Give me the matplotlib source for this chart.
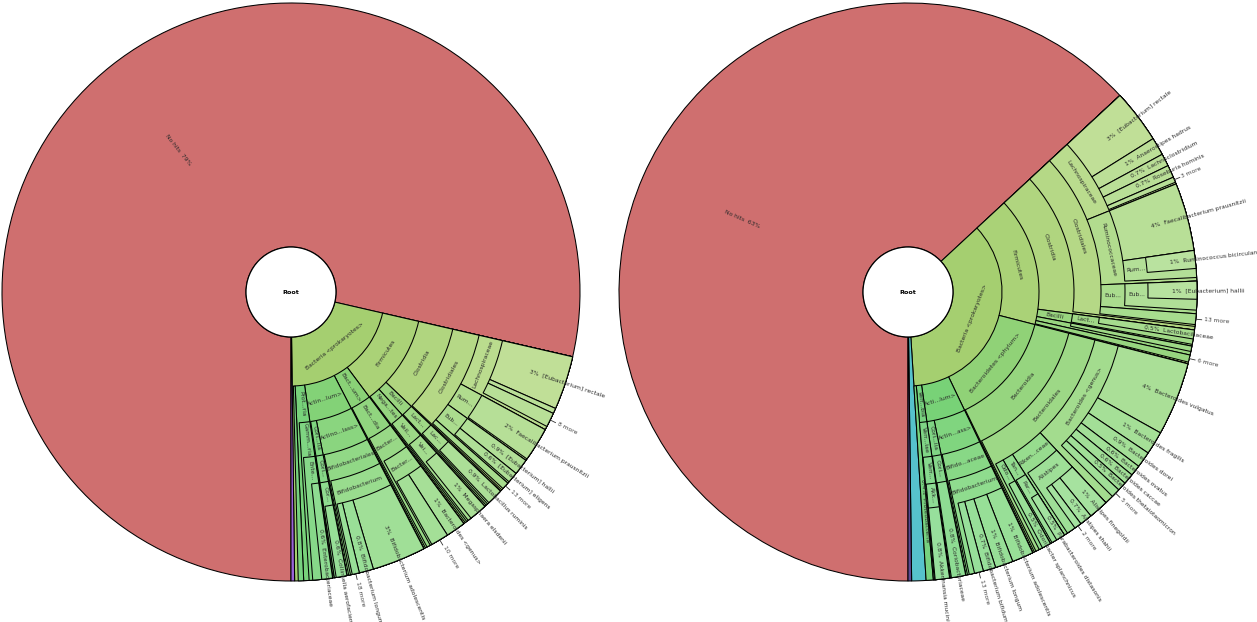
import colorsys
import numpy as np
import matplotlib
matplotlib.use("Agg")
import matplotlib.pyplot as plt
from matplotlib.patches import Wedge, Circle

# ---------------- data: left chart (percent of all reads) ----------------
left_names = [
    "No hits", "Bacteria <prokaryotes>", "Other",
    "Firmicutes", "Bacteroidetes <phylum>", "Actinobacteria <phylum>", "Proteobacteria", "Verrucomicrobia",
    "Clostridia", "Bacilli", "Negativicutes",
    "Clostridiales",
    "Lachnospiraceae", "Ruminococcaceae", "Eubacteriaceae", "13 more",
    "[Eubacterium] rectale", "Roseburia", "8 more",
    "Faecalibacterium prausnitzii",
    "[Eubacterium] hallii", "[Eubacterium] eligens",
    "Lactobacillales", "Lactobacillaceae", "Lactobacillus ruminis",
    "Veillonellales", "Veillonellaceae", "Megasphaera elsdenii",
    "Bacteroidia", "Bacteroidales", "Bacteroidaceae", "Bacteroides <genus>", "10 more",
    "Actinobacteria <class>", "Bifidobacteriales", "Bifidobacterium",
    "Bifidobacterium adolescentis", "Bifidobacterium longum", "18 more",
    "Coriobacteriia", "Coriobacteriales", "Coriobacteriaceae", "Collinsella aerofaciens",
    "Gammaproteobacteria", "Enterobacterales", "Enterobacteriaceae",
]
left_parents = [
    "Root", "Root", "Root",
    "Bacteria <prokaryotes>", "Bacteria <prokaryotes>", "Bacteria <prokaryotes>", "Bacteria <prokaryotes>", "Bacteria <prokaryotes>",
    "Firmicutes", "Firmicutes", "Firmicutes",
    "Clostridia",
    "Clostridiales", "Clostridiales", "Clostridiales", "Clostridiales",
    "Lachnospiraceae", "Lachnospiraceae", "Lachnospiraceae",
    "Ruminococcaceae",
    "Eubacteriaceae", "Eubacteriaceae",
    "Bacilli", "Lactobacillales", "Lactobacillaceae",
    "Negativicutes", "Veillonellales", "Veillonellaceae",
    "Bacteroidetes <phylum>", "Bacteroidia", "Bacteroidales", "Bacteroidaceae", "Bacteroidaceae",
    "Actinobacteria <phylum>", "Actinobacteria <class>", "Bifidobacteriales",
    "Bifidobacterium", "Bifidobacterium", "Bifidobacterium",
    "Actinobacteria <phylum>", "Coriobacteriia", "Coriobacteriales", "Coriobacteriaceae",
    "Proteobacteria", "Gammaproteobacteria", "Enterobacterales",
]
left_values = [
    78.6, 21.2, 0.2,
    11.2, 2.6, 5.3, 1.6, 0.3,
    8.5, 1.2, 1.4,
    8.4,
    4.3, 2.0, 1.6, 0.4,
    3.0, 0.3, 0.8,
    1.9,
    0.9, 0.6,
    1.1, 1.0, 0.9,
    1.3, 1.2, 1.0,
    2.5, 2.4, 2.2, 1.1, 1.0,
    4.5, 4.4, 4.3,
    3.0, 0.8, 0.4,
    0.7, 0.7, 0.7, 0.6,
    1.3, 1.1, 0.6,
]

# ---------------- data: right chart (percent of all reads) ----------------
right_names = [
    "No hits", "Bacteria <prokaryotes>", "Eukaryota", "Viruses",
    "Firmicutes", "Bacteroidetes <phylum>", "Actinobacteria <phylum>", "Verrucomicrobia", "Proteobacteria",
    "Clostridia", "Bacilli", "Negativicutes", "6 more",
    "Clostridiales",
    "Lachnospiraceae", "Ruminococcaceae", "Eubacteriaceae", "13 more",
    "[Eubacterium] rectale", "Anaerostipes hadrus", "Lachnoclostridium", "Roseburia hominis", "3 more",
    "Faecalibacterium prausnitzii", "Ruminococcus", "Ruminococcus bicirculans",
    "Eubacterium", "[Eubacterium] hallii",
    "Lactobacillales", "Lactobacillaceae", "Veillonellales",
    "Bacteroidia", "Bacteroidales",
    "Bacteroides <genus>", "Rikenellaceae", "Tannerellaceae", "Odoribacteraceae",
    "Bacteroides vulgatus", "Bacteroides fragilis", "Bacteroides dorei", "Bacteroides ovatus",
    "Bacteroides caccae", "Bacteroides thetaiotaomicron", "5 more",
    "Alistipes", "Alistipes finegoldii", "Alistipes shahii", "2 more",
    "Parabacteroides", "Parabacteroides distasonis", "Odoribacter splanchnicus",
    "Actinobacteria <class>", "Bifidobacteriaceae", "Bifidobacterium",
    "Bifidobacterium adolescentis", "Bifidobacterium longum", "Bifidobacterium bifidum", "13 more",
    "Coriobacteriia", "Coriobacteriales", "Coriobacteriaceae",
    "Verrucomicrobiae", "Verrucomicrobiales", "Akkermansiaceae", "Akkermansia muciniphila",
]
right_parents = [
    "Root", "Root", "Root", "Root",
    "Bacteria <prokaryotes>", "Bacteria <prokaryotes>", "Bacteria <prokaryotes>", "Bacteria <prokaryotes>", "Bacteria <prokaryotes>",
    "Firmicutes", "Firmicutes", "Firmicutes", "Firmicutes",
    "Clostridia",
    "Clostridiales", "Clostridiales", "Clostridiales", "Clostridiales",
    "Lachnospiraceae", "Lachnospiraceae", "Lachnospiraceae", "Lachnospiraceae", "Lachnospiraceae",
    "Ruminococcaceae", "Ruminococcaceae", "Ruminococcus",
    "Eubacteriaceae", "Eubacterium",
    "Bacilli", "Lactobacillales", "Negativicutes",
    "Bacteroidetes <phylum>", "Bacteroidia",
    "Bacteroidales", "Bacteroidales", "Bacteroidales", "Bacteroidales",
    "Bacteroides <genus>", "Bacteroides <genus>", "Bacteroides <genus>", "Bacteroides <genus>",
    "Bacteroides <genus>", "Bacteroides <genus>", "Bacteroides <genus>",
    "Rikenellaceae", "Alistipes", "Alistipes", "Alistipes",
    "Tannerellaceae", "Parabacteroides", "Odoribacteraceae",
    "Actinobacteria <phylum>", "Actinobacteria <class>", "Bifidobacteriaceae",
    "Bifidobacterium", "Bifidobacterium", "Bifidobacterium", "Bifidobacterium",
    "Actinobacteria <phylum>", "Coriobacteriia", "Coriobacteriales",
    "Verrucomicrobia", "Verrucomicrobiae", "Verrucomicrobiales", "Akkermansiaceae",
]
right_values = [
    63.1, 35.9, 0.8, 0.2,
    15.9, 13.9, 4.8, 0.9, 0.4,
    14.0, 0.9, 0.5, 0.4,
    13.8,
    5.8, 5.5, 1.8, 0.6,
    3.0, 1.0, 0.7, 0.7, 0.3,
    3.8, 1.5, 1.0,
    1.6, 1.0,
    0.8, 0.5, 0.3,
    13.8, 13.7,
    9.0, 2.9, 0.9, 0.7,
    4.1, 1.3, 0.9, 0.6,
    0.6, 0.5, 0.5,
    2.7, 1.1, 0.7, 0.4,
    0.8, 0.5, 0.5,
    3.9, 3.8, 3.7,
    1.2, 1.0, 0.7, 0.5,
    0.9, 0.85, 0.8,
    0.9, 0.85, 0.8, 0.8,
]

left_root_colors = {"No hits": "#cf6f6f", "Other": "#9a62d8"}
right_root_colors = {"No hits": "#cf6f6f", "Eukaryota": "#56c2cc", "Viruses": "#5d4a92"}

# ---------------- layout / style ----------------
RINGS = [45, 94, 131, 166, 193, 217, 240, 262]
R_OUT = 289
CHAR_W = 3.2
FS = 4.3
TXT = "#2a2a2a"


def pct_text(v):
    return f"{v:.0f}%" if v >= 1 else f"{v:.1f}%"


def abbreviate(name, nchar):
    if len(name) <= nchar:
        return name
    if nchar < 5:
        return None
    if nchar >= 10:
        k1 = (nchar - 3 + 1) // 2
        k2 = nchar - 3 - k1
        return name[:k1] + "..." + name[-k2:]
    return name[:nchar - 3] + "..."


def norm_rot(r):
    while r <= -90:
        r += 180
    while r > 90:
        r -= 180
    return r


def draw_chart(ax, cx, cy, names, parents, values, root_colors):
    children = {}
    for n, p, v in zip(names, parents, values):
        children.setdefault(p, []).append((n, v))
    total = sum(v for _, v in children["Root"])
    nodes = []

    def place(parent, a_start, depth, top):
        a = a_start
        for n, v in children.get(parent, []):
            span = v / total * 360.0
            t = n if depth == 0 else top
            nodes.append(dict(name=n, v=v, a0=a, a1=a + span, d=depth + 1,
                              leaf=(n not in children), top=t))
            if n in children:
                place(n, a, depth + 1, t)
            a += span

    place("Root", 180.0, 0, None)
    tops = {nd["name"]: nd for nd in nodes if nd["d"] == 1}

    def color(nd):
        if nd["top"] in root_colors:
            return root_colors[nd["top"]]
        t = tops[nd["top"]]
        frac = (nd["a0"] - t["a0"]) / (t["a1"] - t["a0"])
        h = (86 + 40 * frac) / 360.0
        d = nd["d"]
        s = 0.46 - 0.027 * (d - 1)
        val = 0.81 + 0.013 * (d - 1)
        return colorsys.hsv_to_rgb(h, s, val)

    for nd in sorted(nodes, key=lambda x: x["d"]):
        r_in = RINGS[nd["d"] - 1]
        ax.add_patch(Wedge((cx, cy), R_OUT, 90 - nd["a1"], 90 - nd["a0"],
                           width=R_OUT - r_in, facecolor=color(nd),
                           edgecolor="black", linewidth=0.75, zorder=nd["d"]))

    for nd in nodes:
        d = nd["d"]
        r_in = RINGS[d - 1]
        amid = (nd["a0"] + nd["a1"]) / 2
        deg = 90 - amid
        th = np.deg2rad(deg)
        c, s = np.cos(th), np.sin(th)
        span_rad = np.deg2rad(nd["a1"] - nd["a0"])
        if nd["leaf"]:
            if nd["name"].endswith(" more"):
                ax.plot([cx + R_OUT * c, cx + (R_OUT + 6) * c],
                        [cy + R_OUT * s, cy + (R_OUT + 6) * s],
                        color="#333333", lw=0.6, zorder=30)
                r_s = R_OUT + 8
                rot = deg if c >= -1e-9 else deg - 180
                ha = "left" if c >= -1e-9 else "right"
                ax.text(cx + r_s * c, cy + r_s * s, nd["name"], rotation=rot,
                        rotation_mode="anchor", ha=ha, va="center",
                        fontsize=FS, color="#444444", zorder=31)
            elif nd["v"] >= 0.35 and (d > 1 or nd["v"] >= 5):
                r_s = r_in + 0.48 * (R_OUT - r_in)
                if c >= -1e-9:
                    rot, ha = deg, "left"
                    txt = f"{pct_text(nd['v'])}  {nd['name']}"
                else:
                    rot, ha = deg - 180, "right"
                    txt = f"{nd['name']}  {pct_text(nd['v'])}"
                ax.text(cx + r_s * c, cy + r_s * s, txt, rotation=rot,
                        rotation_mode="anchor", ha=ha, va="center",
                        fontsize=FS, color=TXT, zorder=31)
        else:
            r_out = RINGS[d]
            rm = (r_in + r_out) / 2
            arc = rm * span_rad
            if arc >= 26:
                lab = abbreviate(nd["name"], int(arc * 1.1 / CHAR_W))
                rot = norm_rot(deg - 90)
            elif arc >= 5:
                lab = abbreviate(nd["name"], int((r_out - r_in - 3) / CHAR_W))
                rot = norm_rot(deg)
            else:
                lab = None
            if lab:
                ax.text(cx + rm * c, cy + rm * s, lab, rotation=rot,
                        rotation_mode="anchor", ha="center", va="center",
                        fontsize=FS, color=TXT, zorder=31)

    ax.add_patch(Circle((cx, cy), RINGS[0], facecolor="white", edgecolor="black",
                        linewidth=0.9, zorder=40))
    ax.text(cx, cy, "Root", ha="center", va="center", fontsize=4.6,
            fontweight="bold", color="black", zorder=41)


fig = plt.figure(figsize=(12.57, 6.22), dpi=100)
ax = fig.add_axes([0, 0, 1, 1])
ax.set_xlim(0, 1257)
ax.set_ylim(0, 622)
ax.set_aspect("equal")
ax.axis("off")

draw_chart(ax, 291, 330, left_names, left_parents, left_values, left_root_colors)
draw_chart(ax, 908, 330, right_names, right_parents, right_values, right_root_colors)

fig.savefig("out.png", dpi=100, facecolor="white")
